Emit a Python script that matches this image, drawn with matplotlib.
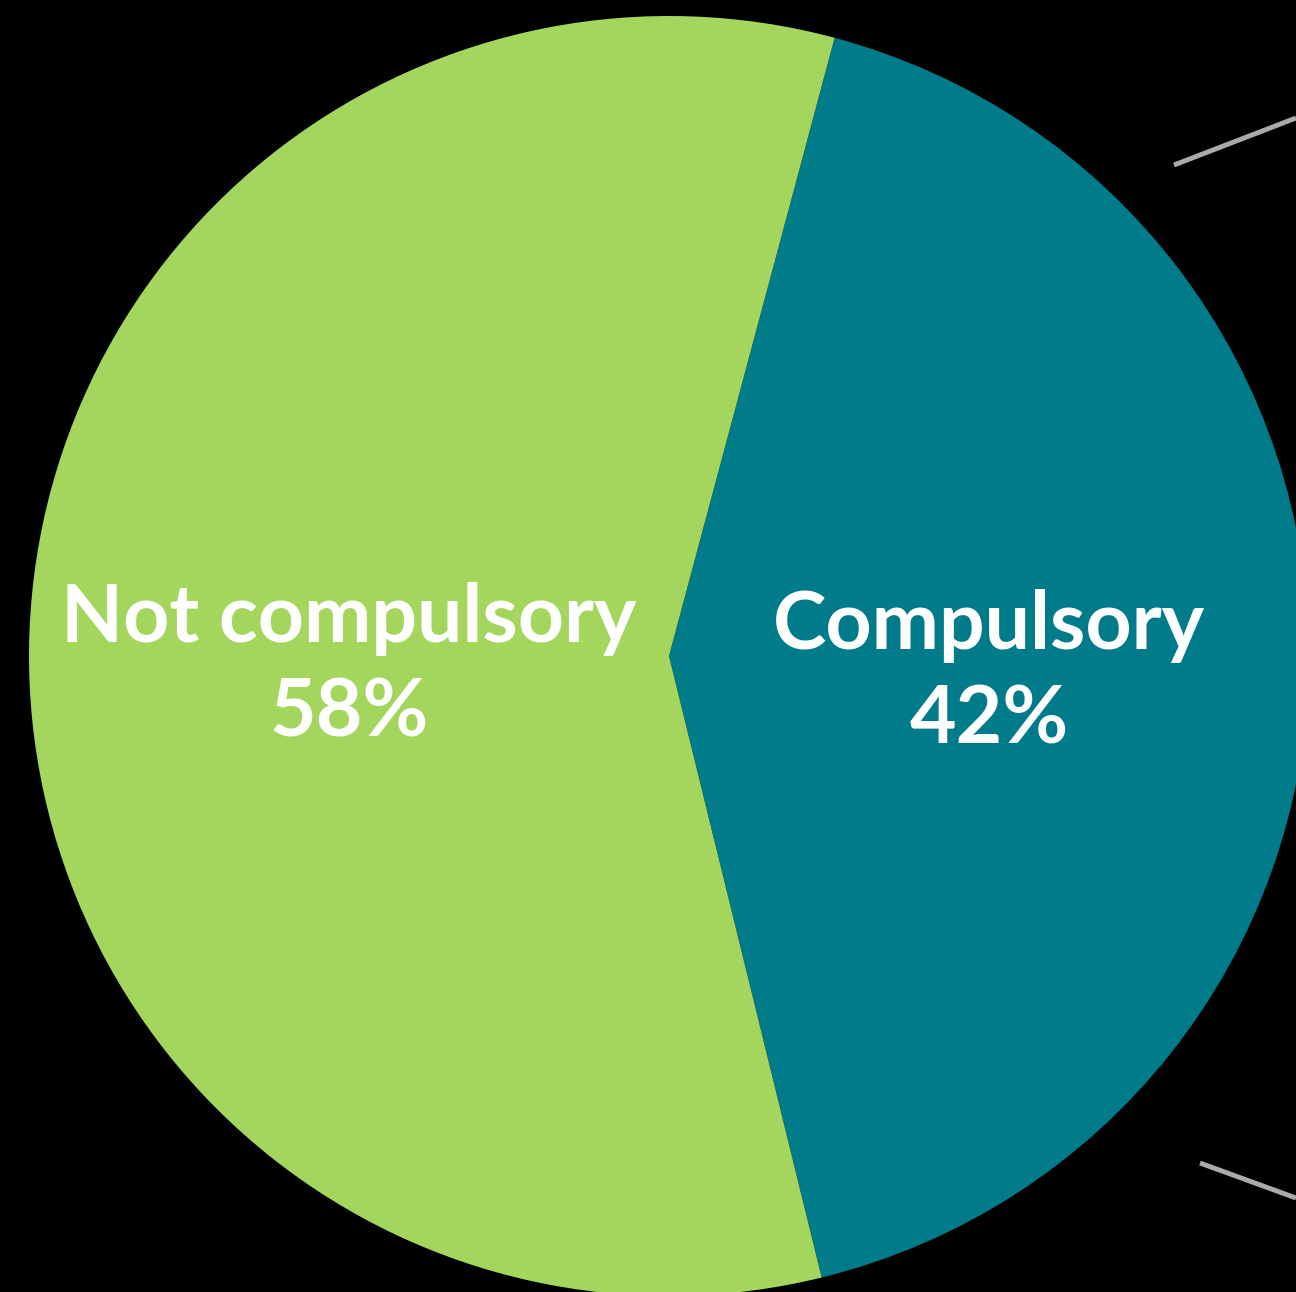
import numpy as np
import matplotlib.pyplot as plt

labels = ["Compulsory", "Not compulsory"]
shares = [42, 58]
colors = ["#007B89", "#A4D65E"]

W, H = 1296, 1292
fig = plt.figure(figsize=(W / 100, H / 100), dpi=100, facecolor="black")
ax = fig.add_axes([0, 0, 1, 1])
ax.set_facecolor("black")

cx, cy, r = 669, H - 656, 640
start = -76.2
wedges, _ = ax.pie(shares, colors=colors, startangle=start, counterclock=True,
                   center=(cx, cy), radius=r, frame=True,
                   wedgeprops=dict(linewidth=0))
ax.set_xlim(0, W)
ax.set_ylim(0, H)
ax.set_aspect("equal")
ax.axis("off")

# labels at half radius along each wedge's middle angle
for w, lab, s in zip(wedges, labels, shares):
    mid = np.deg2rad((w.theta1 + w.theta2) / 2)
    x = cx + 0.5 * r * np.cos(mid)
    y = cy + 0.5 * r * np.sin(mid) - 14
    ax.text(x, y, f"{lab}\n{s}%", color="white", fontsize=58, fontweight="bold",
            family="Lato", ha="center", va="center", linespacing=1.34)

# leader lines cut off at the right edge
ax.plot([1174, 1296], [H - 165, H - 118], color="#aaaaaa", lw=3.5, solid_capstyle="butt")
ax.plot([1200, 1296], [H - 1163, H - 1198], color="#aaaaaa", lw=3.5, solid_capstyle="butt")

fig.savefig("out.png", dpi=100, facecolor="black")
